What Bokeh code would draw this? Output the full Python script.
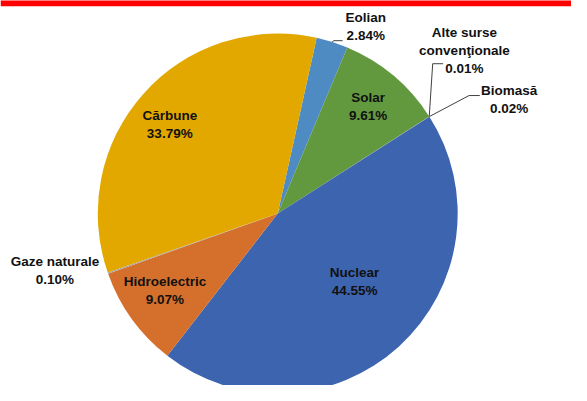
import numpy as np
from bokeh.plotting import figure
from bokeh.models import Range1d, ColumnDataSource, BoxAnnotation
from bokeh.core.properties import value
from bokeh.embed import file_html
from bokeh.resources import INLINE

# ---- data ----
sources = ["Eolian", "Solar", "Alte surse\nconvenţionale", "Biomasă",
           "Nuclear", "Hidroelectric", "Gaze naturale", "Cărbune"]
shares = [2.84, 9.61, 0.01, 0.02, 44.55, 9.07, 0.10, 33.79]
colors = ["#4F8BC3", "#62993F", "#7F7F7F", "#A0A0A0",
          "#3D64AE", "#D4702C", "#A5A5A5", "#E2A800"]

# ---- layout (reference pixel space: 587 x 401, y downward) ----
W, H = 587, 401
cx, cy, R = 285.0, 219.0, 185.0
first_angle = 12.5  # degrees clockwise from 12 o'clock

# label block centers (reference pixels)
label_pos = {
    "Eolian": (375.5, 26.5),
    "Solar": (378, 109),
    "Alte surse\nconvenţionale": (477, 51.5),
    "Biomasă": (523, 101.5),
    "Nuclear": (364, 288.5),
    "Hidroelectric": (169, 298.5),
    "Gaze naturale": (56, 278),
    "Cărbune": (174, 127),
}
# leader line elbows (reference pixels) for small slices
leaders = {
    "Eolian": [(342.7, 41.3), (351.7, 41.3)],
    "Alte surse\nconvenţionale": [(444.3, 65), (455, 65)],
    "Biomasă": [(481.7, 97.7), (492.7, 97.7)],
}

total = float(np.sum(shares))
frac = np.array(shares) / total
start_cw = first_angle + 360 * (np.cumsum(frac) - frac)
end_cw = start_cw + 360 * frac
mid_cw = (start_cw + end_cw) / 2

def fy(y):  # reference y (down) -> data y (up)
    return H - y

plot_w, plot_h = 571, 385
scale = plot_w / W
yspan = plot_h / scale

p = figure(width=plot_w, height=plot_h, output_backend="svg", toolbar_location=None,
           x_range=Range1d(0, W), y_range=Range1d(H - yspan, H), min_border=0)
p.axis.visible = False
p.grid.visible = False
p.outline_line_color = None
p.background_fill_color = "white"
p.border_fill_color = "white"

p.add_layout(BoxAnnotation(bottom=fy(6), top=H + 5, fill_color="#FF0000",
                           fill_alpha=1, line_color=None))

src = ColumnDataSource(dict(
    start=np.radians(90 - start_cw), end=np.radians(90 - end_cw),
    color=colors, name=sources))
p.wedge(x=cx, y=fy(cy), radius=R, start_angle="start", end_angle="end",
        direction="clock", fill_color="color", line_color=None, source=src)

# leader lines
for i, s in enumerate(sources):
    if s in leaders:
        a = np.radians(mid_cw[i])
        x0 = cx + R * np.sin(a)
        y0 = cy - R * np.cos(a)
        pts = [(x0, y0)] + leaders[s]
        p.line([q[0] for q in pts], [fy(q[1]) for q in pts],
               line_color="#404040", line_width=1)

# labels
lx, ly, lt = [], [], []
for s, v in zip(sources, shares):
    x, y = label_pos[s]
    lx.append(x)
    ly.append(fy(y))
    lt.append(f"{s}\n{v:.2f}%")
p.text(x=lx, y=ly, text=lt, text_align="center", text_baseline="middle",
       text_font=value("Liberation Sans"), text_font_style="bold",
       text_font_size="13.5px", text_color="#111111", text_line_height=1.2)

open("out.html", "w").write(file_html(p, INLINE))
